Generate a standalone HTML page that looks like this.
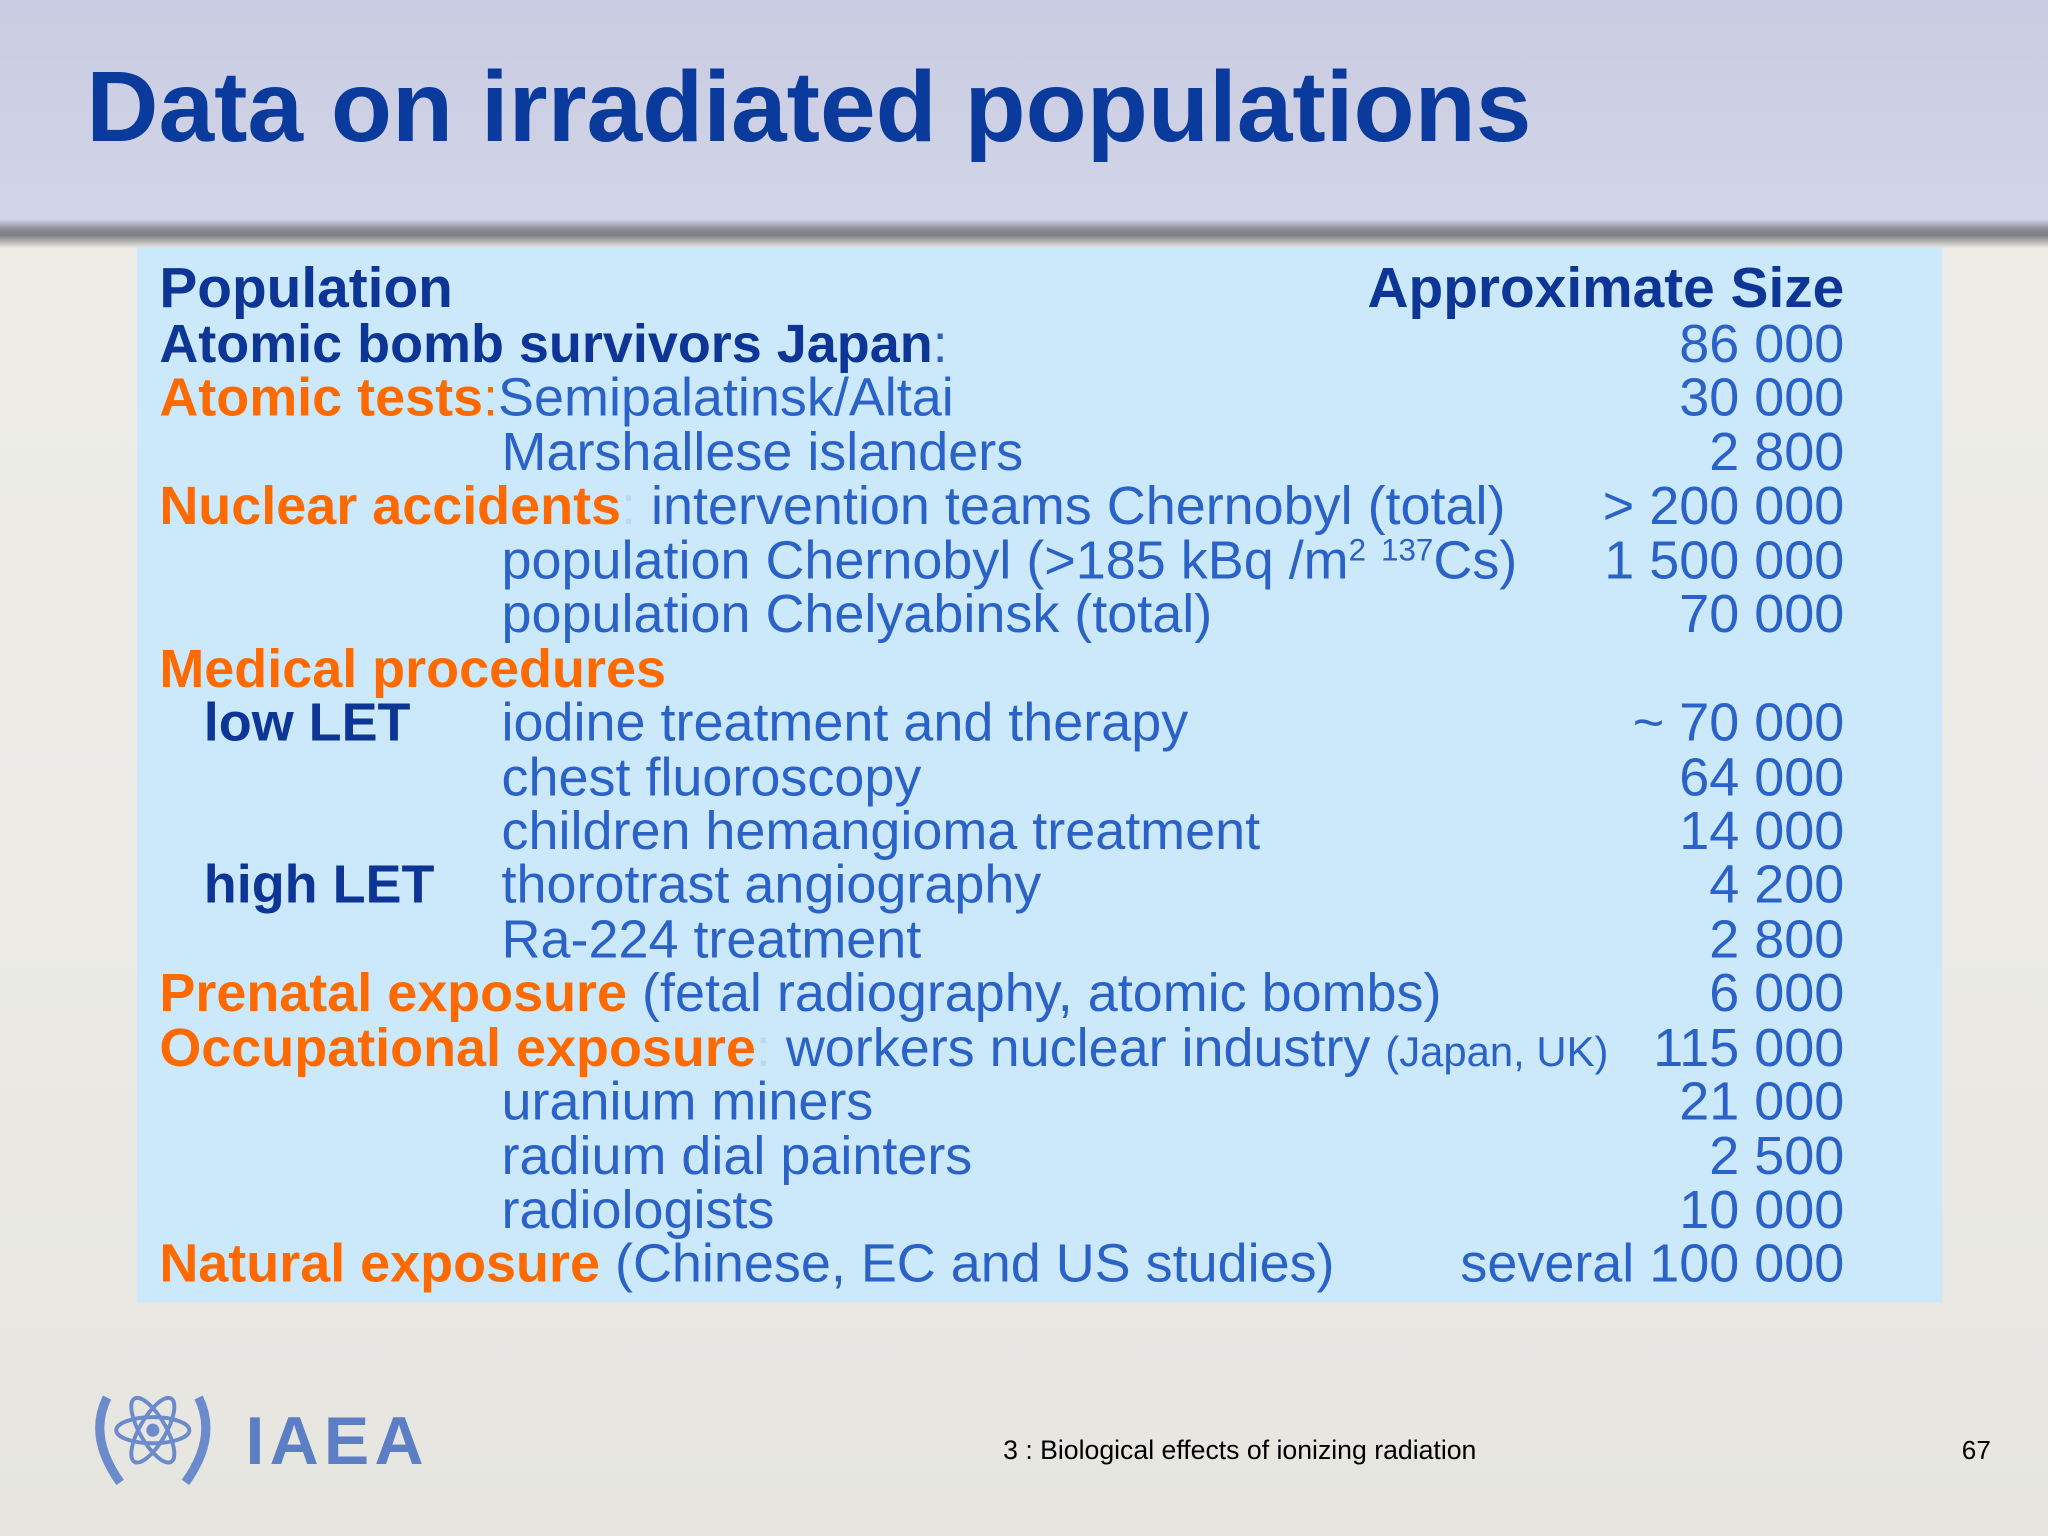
<!DOCTYPE html>
<html><head><meta charset="utf-8"><style>
html,body{margin:0;padding:0;width:2048px;height:1536px;overflow:hidden;background:#ecebe6}
#stage{position:absolute;left:0;top:0;width:1568px;height:1176px;transform:scale(1.306122);transform-origin:0 0;font-family:"Liberation Sans",Arial,sans-serif;
background:linear-gradient(180deg,#eeede8 0%,#ebeae5 60%,#e6e5e0 100%)}
#hdr{position:absolute;left:0;top:0;width:1568px;height:172px;background:linear-gradient(180deg,#c9cce2 0%,#d2d5e7 100%)}
#shadow{position:absolute;left:0;top:168px;width:1568px;height:22px;background:linear-gradient(180deg,#cfd2e4 0%,#8a8b94 35%,#7e7f85 55%,#c9c8c4 85%,#ecebe6 100%)}
#title{position:absolute;left:66px;top:39px;font-size:76.6px;font-weight:bold;color:#0a3a9c;white-space:nowrap}
#box{position:absolute;left:105px;top:189px;width:1382px;height:808px;background:#cce9fb}
.r{position:absolute;font-size:41.3px;line-height:41.44px;white-space:nowrap;color:#2a62c8}
.b{font-weight:bold;color:#0d3596}
.o{font-weight:bold;color:#ff6a00}
.v{position:absolute;right:156px;font-size:41.3px;line-height:41.44px;white-space:nowrap;color:#2a62c8;text-align:right}
.h{font-size:43.5px;font-weight:bold;color:#0d3596}
sup{font-size:24px;vertical-align:14px;line-height:0}
small{font-size:32px}
#foot{position:absolute;left:768px;top:1100px;font-size:20.4px;color:#000}
#pg{position:absolute;left:1502px;top:1100px;font-size:20px;color:#000}
#iaea{position:absolute;left:188px;top:1074px;font-size:52px;font-weight:bold;color:#5b7ec4;letter-spacing:4px}
</style></head><body>
<div id="stage">
<div id="hdr"></div>
<div id="shadow"></div>
<div id="title">Data on irradiated populations</div>
<div id="box"></div>

<div class="r h" style="left:122px;top:201px">Population</div>
<div class="v h" style="top:201px">Approximate Size</div>

<div class="r" style="left:122px;top:243px"><span class="b">Atomic bomb survivors Japan</span>:</div>
<div class="v" style="top:243px">86 000</div>

<div class="r" style="left:122px;top:284px"><span class="o">Atomic tests</span><span style="color:#ff6a00">:</span>Semipalatinsk/Altai</div>
<div class="v" style="top:284px">30 000</div>

<div class="r" style="left:384px;top:326px">Marshallese islanders</div>
<div class="v" style="top:326px">2 800</div>

<div class="r" style="left:122px;top:367px"><span class="o">Nuclear accidents</span><span style="color:#b8d8f0">:</span> intervention teams Chernobyl (total)</div>
<div class="v" style="top:367px">&gt; 200 000</div>

<div class="r" style="left:384px;top:409px">population Chernobyl (&gt;185 kBq /m<sup>2</sup> <sup>137</sup>Cs)</div>
<div class="v" style="top:409px">1 500 000</div>

<div class="r" style="left:384px;top:450px">population Chelyabinsk (total)</div>
<div class="v" style="top:450px">70 000</div>

<div class="r" style="left:122px;top:492px"><span class="o">Medical procedures</span></div>

<div class="r b" style="left:156px;top:533px">low LET</div>
<div class="r" style="left:384px;top:533px">iodine treatment and therapy</div>
<div class="v" style="top:533px">~ 70 000</div>

<div class="r" style="left:384px;top:575px">chest fluoroscopy</div>
<div class="v" style="top:575px">64 000</div>

<div class="r" style="left:384px;top:616px">children hemangioma treatment</div>
<div class="v" style="top:616px">14 000</div>

<div class="r b" style="left:156px;top:657px">high LET</div>
<div class="r" style="left:384px;top:657px">thorotrast angiography</div>
<div class="v" style="top:657px">4 200</div>

<div class="r" style="left:384px;top:699px">Ra-224 treatment</div>
<div class="v" style="top:699px">2 800</div>

<div class="r" style="left:122px;top:740px"><span class="o">Prenatal exposure</span> (fetal radiography, atomic bombs)</div>
<div class="v" style="top:740px">6 000</div>

<div class="r" style="left:122px;top:782px"><span class="o">Occupational exposure</span><span style="color:#b8d8f0">:</span> workers nuclear industry <small>(Japan, UK)</small></div>
<div class="v" style="top:782px">115 000</div>

<div class="r" style="left:384px;top:823px">uranium miners</div>
<div class="v" style="top:823px">21 000</div>

<div class="r" style="left:384px;top:865px">radium dial painters</div>
<div class="v" style="top:865px">2 500</div>

<div class="r" style="left:384px;top:906px">radiologists</div>
<div class="v" style="top:906px">10 000</div>

<div class="r" style="left:122px;top:947px"><span class="o">Natural exposure</span> (Chinese, EC and US studies)</div>
<div class="v" style="top:947px">several 100 000</div>

<svg style="position:absolute;left:62px;top:1050px" width="110" height="100">
<g fill="none" stroke="#6b8bcc" stroke-width="3">
<ellipse cx="55" cy="45" rx="28" ry="10"/>
<ellipse cx="55" cy="45" rx="28" ry="10" transform="rotate(60 55 45)"/>
<ellipse cx="55" cy="45" rx="28" ry="10" transform="rotate(-60 55 45)"/>
<path d="M20 20 Q5 50 30 85" stroke-width="7"/>
<path d="M90 20 Q105 50 80 85" stroke-width="7"/>
</g>
<circle cx="55" cy="45" r="5" fill="#6b8bcc"/>
</svg>
<div id="iaea">IAEA</div>
<div id="foot">3 : Biological effects of ionizing radiation</div>
<div id="pg">67</div>
</div>
</body></html>
